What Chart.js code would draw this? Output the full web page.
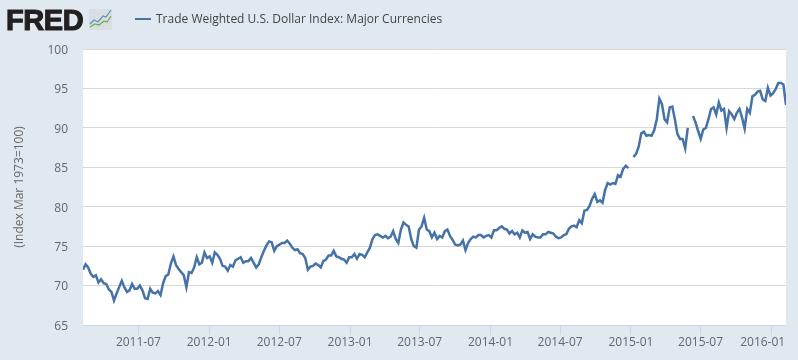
<!DOCTYPE html>
<html>
<head>
<meta charset="utf-8">
<script src="https://cdn.jsdelivr.net/npm/chart.js@4"></script>
<style>
html,body{margin:0;padding:0;background:#e1e9f0;width:798px;height:360px;overflow:hidden}
#wrap{position:relative;width:798px;height:360px}
#logo{position:absolute;left:6px;top:3px;font:900 29px "Liberation Sans",Arial,sans-serif;-webkit-text-stroke:1.1px #231f20;color:#231f20;letter-spacing:-0.4px;line-height:34px}
#icon{position:absolute;left:89px;top:9px}
#leg{position:absolute;left:135px;top:10px;font:12px "Open Sans",sans-serif;color:#444;line-height:17px;white-space:nowrap}
#leg i{display:inline-block;width:16px;height:2px;background:#4572a7;vertical-align:middle;margin-right:5px;position:relative;top:-1px}
</style>
</head>
<body>
<div id="wrap">
  <div id="logo">FRED</div>
  <svg id="icon" width="23" height="21" viewBox="0 0 23 21">
    <rect x="0" y="0" width="23" height="21" fill="#d8dfe3"/>
    <polyline points="1,15 5,11 9,13 14,7 17,8 22,1" fill="none" stroke="#5f8db8" stroke-width="1.2"/>
    <polyline points="1,18 6,15 10,16 15,12 18,13 22,7" fill="none" stroke="#76a34f" stroke-width="1.2"/>
  </svg>
  <div id="leg"><i></i>Trade Weighted U.S. Dollar Index: Major Currencies</div>
  <canvas id="chart" width="798" height="360"></canvas>
</div>
<script>
const seriesName='Trade Weighted U.S. Dollar Index: Major Currencies';
const axisTitle='(Index Mar 1973=100)';
const firstDate='2011-02-07',lastDate='2016-02-08';
const tickDates=['2011-07-01','2012-01-01','2012-07-01','2013-01-01','2013-07-01','2014-01-01','2014-07-01','2015-01-01','2015-07-01','2016-01-01'];
const yTicks=[65,70,75,80,85,90,95,100];
// values, left to right, evenly spaced in time
const values2011=[72.0,72.7,72.3,71.5,71.1,71.3,70.4,70.8,70.3,70.2,69.5,69.2,68.1,69.0,69.8,70.6,69.8,69.2,69.4,70.2,69.6,69.6,70.0,69.4,68.4,68.3,69.6,69.1,69.0,69.3,68.8,70.3,71.2,71.4,72.8,73.7,72.6,72.1,71.7,71.3,69.8,71.7,71.6,72.3,73.6,72.7,72.9,74.2];
const values2012=[73.5,73.7,72.9,74.2,73.9,73.4,72.5,72.4,71.9,72.6,72.4,73.2,73.4,73.6,72.9,73.1,73.1,73.5,72.9,72.3,72.7,73.6,74.4,75.1,75.6,75.5,74.4,75.0,75.2,75.4,75.4,75.7,75.3,74.8,74.5,74.6,74.1,74.0,73.5,72.0,72.4,72.5,72.8,72.6];
const values2013=[72.3,73.1,73.3,73.8,73.8,74.4,73.7,73.6,73.4,73.3,72.9,73.6,73.6,74.0,73.4,74.0,73.9,73.6,74.2,74.8,75.9,76.4,76.5,76.3,76.1,76.3,76.0,76.2,76.9,75.9,75.4,77.1,78.0,77.7,77.5,75.9,75.0,74.8,77.1,77.5,78.6,77.1,76.9,76.1,76.7,75.9,76.3];
const values2014=[76.1,76.9,77.1,76.3,75.8,75.2,75.1,75.2,75.7,74.5,75.4,75.9,76.2,76.1,76.4,76.4,76.1,76.3,76.4,76.1,77.0,77.0,77.3,77.5,77.2,77.1,76.6,76.9,76.5,76.7,76.1,77.0,76.7,76.8,75.9,76.5,76.2,76.1,76.1,76.5,76.5,76.8,76.7,76.6,76.2,76.0];
const values2015a=[76.1,76.4,76.5,77.2,77.5,77.6,77.4,78.3,77.9,79.5,79.6,80.1,81.0,81.6,80.6,80.8,80.5,82.1,83.0,82.8,83.0,82.9,84.0,83.8,84.8,85.2,84.9,null,86.3,86.7,87.6,89.3,89.5,89.0,89.1,89.0,89.7,91.1];
const values2015b=[93.7,93.0,91.1,90.7,92.6,92.7,91.1,89.2,88.6,88.6,87.4,90.0,null,91.5,90.7,89.6,88.6,89.8,90.0,91.1,92.4,92.6,91.7,93.2,92.2,92.4,90.0,92.1,91.7,91.1,91.9,92.4,91.3,89.9,92.4,91.9,94.0,94.2,94.6,94.7,93.6,93.4,95.1,94.1,94.4,94.9,95.7,95.7,95.5,92.9];
const allValues=[...values2011,...values2012,...values2013,...values2014,...values2015a,...values2015b];

const DAY=86400000;
const toDay=s=>Date.parse(s+'T00:00:00Z')/DAY;
const startDay=toDay(firstDate),endDay=toDay(lastDate);
const stepDays=(endDay-startDay)/(allValues.length-1);
const points=allValues.map((v,i)=>({x:startDay+i*stepDays,y:v}));
const tickDays=tickDates.map(toDay);
const fontFam='"Open Sans",sans-serif';

const plotBg={id:'plotBg',
  beforeDraw(c){const a=c.chartArea,ctx=c.ctx;ctx.save();ctx.fillStyle='#fff';ctx.fillRect(a.left,a.top,a.right-a.left,a.bottom-a.top);ctx.restore();
    // last label is pushed inside the plot, as in the original
    const items=c.scales.x.getLabelItems();const last=items[items.length-1];
    if(last&&!last.moved){last.options.translation[0]-=8.7;last.moved=true;}
  }};

new Chart(document.getElementById('chart'),{
  type:'line',
  data:{datasets:[{label:seriesName,data:points,borderColor:'#4572a7',borderWidth:2.5,pointRadius:0,tension:0,spanGaps:false,fill:false}]},
  plugins:[plotBg],
  options:{
    responsive:false,animation:false,parsing:false,normalized:true,
    layout:{padding:{left:0,right:12,top:49,bottom:0}},
    plugins:{legend:{display:false},tooltip:{enabled:false}},
    scales:{
      x:{type:'linear',min:startDay,max:endDay,
        afterBuildTicks(s){s.ticks=tickDays.map(v=>({value:v}));},
        afterFit(s){s.height=35;},
        ticks:{autoSkip:false,maxRotation:0,color:'#666',font:{family:fontFam,size:12},padding:0,
          callback(v){return tickDates[tickDays.indexOf(v)].slice(0,7);}},
        grid:{drawOnChartArea:false,drawTicks:true,tickLength:10,tickColor:'#ccd6eb'},
        border:{color:'#ccd6eb',width:1}},
      y:{min:65,max:100,
        afterBuildTicks(s){s.ticks=yTicks.map(v=>({value:v}));},
        afterFit(s){s.width=83;},
        ticks:{color:'#666',font:{family:fontFam,size:12},padding:15,labelOffset:1.5},
        grid:{color:'#d8d8d8',drawTicks:false,lineWidth:1},
        border:{display:false},
        title:{display:true,text:axisTitle,color:'#666',font:{family:fontFam,size:12},padding:{top:12,bottom:0}}}
    }
  }
});
</script>
</body>
</html>
